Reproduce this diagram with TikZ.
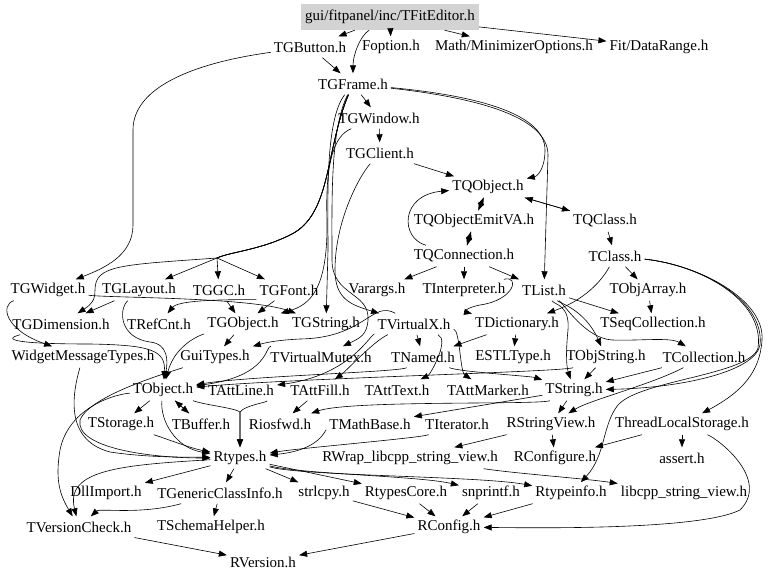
\documentclass[tikz,border=0pt]{standalone}
\usepackage{fontspec}
\setmainfont{Liberation Serif}
\usetikzlibrary{arrows.meta}
\definecolor{rootfill}{RGB}{211,211,211}
\begin{document}
\begin{tikzpicture}[x=1pt,y=-1pt,
  nd/.style={inner xsep=3pt, inner ysep=0pt, minimum height=21pt, font=\fontsize{15}{18}\selectfont},
  rootnd/.style={nd, fill=rootfill, minimum height=26pt, inner xsep=4pt},
  e/.style={-{Triangle[length=8pt,width=6pt]}, line width=0.6pt}]
\useasboundingbox (0,0) rectangle (768,580);
% nodes
\node[rootnd] (fit) at (390,17) {gui/fitpanel/inc/TFitEditor.h};
\node[nd] (btn) at (310,47) {TGButton.h};
\node[nd] (fop) at (391,47) {Foption.h};
\node[nd] (mop) at (514,47) {Math/MinimizerOptions.h};
\node[nd] (fdr) at (659,47) {Fit/DataRange.h};
\node[nd] (frame) at (353,84) {TGFrame.h};
\node[nd] (win) at (379,118) {TGWindow.h};
\node[nd] (cli) at (380,153) {TGClient.h};
\node[nd] (tqo) at (488,187) {TQObject.h};
\node[nd] (emit) at (474,221) {TQObjectEmitVA.h};
\node[nd] (tqc) at (605,221) {TQClass.h};
\node[nd] (conn) at (464,256) {TQConnection.h};
\node[nd] (tcl) at (615,256) {TClass.h};
\node[nd] (wid) at (48,290) {TGWidget.h};
\node[nd] (lay) at (139,290) {TGLayout.h};
\node[nd] (gc) at (219,290) {TGGC.h};
\node[nd] (font) at (289,290) {TGFont.h};
\node[nd] (var) at (377,290) {Varargs.h};
\node[nd] (interp) at (464,290) {TInterpreter.h};
\node[nd] (tlist) at (544,290) {TList.h};
\node[nd] (oarr) at (648,290) {TObjArray.h};
\node[nd] (dim) at (61,324) {TGDimension.h};
\node[nd] (refc) at (159,324) {TRefCnt.h};
\node[nd] (gobj) at (243,324) {TGObject.h};
\node[nd] (gstr) at (326,324) {TGString.h};
\node[nd] (vx) at (414,324) {TVirtualX.h};
\node[nd] (dict) at (517,324) {TDictionary.h};
\node[nd] (seq) at (653,324) {TSeqCollection.h};
\node[nd] (wmt) at (83,357) {WidgetMessageTypes.h};
\node[nd] (gui) at (215,357) {GuiTypes.h};
\node[nd] (vmut) at (321,357) {TVirtualMutex.h};
\node[nd] (named) at (423,357) {TNamed.h};
\node[nd] (estl) at (513,357) {ESTLType.h};
\node[nd] (ostr) at (606,357) {TObjString.h};
\node[nd] (coll) at (704,357) {TCollection.h};
\node[nd] (obj) at (163,390) {TObject.h};
\node[nd] (aline) at (241,390) {TAttLine.h};
\node[nd] (afill) at (320,390) {TAttFill.h};
\node[nd] (atext) at (397,390) {TAttText.h};
\node[nd] (amark) at (488,390) {TAttMarker.h};
\node[nd] (str) at (574,390) {TString.h};
\node[nd] (stor) at (121,424) {TStorage.h};
\node[nd] (buf) at (201,424) {TBuffer.h};
\node[nd] (rios) at (280,424) {Riosfwd.h};
\node[nd] (mathb) at (370,424) {TMathBase.h};
\node[nd] (iter) at (457,424) {TIterator.h};
\node[nd] (rsv) at (551,424) {RStringView.h};
\node[nd] (tls) at (682,424) {ThreadLocalStorage.h};
\node[nd] (rty) at (240,458) {Rtypes.h};
\node[nd] (rwrap) at (410,458) {RWrap\_libcpp\_string\_view.h};
\node[nd] (rcfg) at (555,458) {RConfigure.h};
\node[nd] (assert) at (682,458) {assert.h};
\node[nd] (dll) at (106,493) {DllImport.h};
\node[nd] (gci) at (220,493) {TGenericClassInfo.h};
\node[nd] (strl) at (324,493) {strlcpy.h};
\node[nd] (rcore) at (406,493) {RtypesCore.h};
\node[nd] (snp) at (491,493) {snprintf.h};
\node[nd] (rti) at (571,493) {Rtypeinfo.h};
\node[nd] (lcsv) at (684,493) {libcpp\_string\_view.h};
\node[nd] (tvc) at (79,527) {TVersionCheck.h};
\node[nd] (tsh) at (211,527) {TSchemaHelper.h};
\node[nd] (rconf) at (449,527) {RConfig.h};
\node[nd] (rver) at (263,562) {RVersion.h};
% top edges
\draw[e] (fit) -- (btn);
\draw[e] (fit) .. controls (360,36) and (353,55) .. (frame);
\draw[e] (fit) -- (fop);
\draw[e] (fit) -- (mop);
\draw[e] (fit) -- (fdr);
\draw[e] (btn) -- (frame);
\draw[e] (btn) .. controls (200,62) and (133,85) .. (133,130) -- (133,225) .. controls (133,255) and (105,268) .. (wid);
\draw[e] (frame) -- (win);
\draw[e] (win) -- (cli);
\draw[e] (cli) -- (tqo);
\draw[e] (frame) .. controls (470,95) and (545,112) .. (545,150) .. controls (545,168) and (538,176) .. (tqo);
\draw[e] (frame) .. controls (470,97) and (548,115) .. (548,155) -- (tlist);
% corridor
\draw[e] (frame) .. controls (325,120) and (328,200) .. (328,250) -- (gstr);
\draw[e] (win) .. controls (335,135) and (325,160) .. (327,220) .. controls (328,290) and (310,305) .. (gobj);
\draw[e] (cli) .. controls (360,175) and (335,220) .. (335,270) .. controls (335,300) and (352,305) .. (vx);
\draw[e] (frame) .. controls (330,130) and (332,200) .. (332,260) .. controls (332,296) and (370,292) .. (368,320) .. controls (367,335) and (360,338) .. (vmut);
\draw[e] (frame) .. controls (325,150) and (332,215) .. (290,235) .. controls (260,250) and (230,252) .. (217,258) -- (lay);
\draw[e] (frame) .. controls (325,150) and (332,215) .. (290,235) .. controls (260,250) and (230,252) .. (217,258) -- (gc);
\draw[e] (frame) .. controls (325,150) and (332,215) .. (290,235) .. controls (260,250) and (230,252) .. (217,258) -- (font);
\draw[e] (frame) .. controls (325,150) and (332,215) .. (290,235) .. controls (260,250) and (230,252) .. (217,258) .. controls (120,265) and (95,265) .. (95,290) .. controls (95,300) and (92,304) .. (dim);
% TQ group
\draw[e] (tqo) -- (emit);
\draw[e] (emit) -- (tqo);
\draw[e] (emit) -- (conn);
\draw[e] (conn) -- (emit);
\draw[e] (conn) .. controls (400,238) and (400,195) .. (tqo);
\draw[e] (tqo) -- (tqc);
\draw[e] (tqc) -- (tqo);
\draw[e] (tqc) -- (tcl);
\draw[e] (conn) -- (var);
\draw[e] (conn) -- (interp);
\draw[e] (conn) -- (tlist);
% TClass
\draw[e] (tcl) -- (oarr);
\draw[e] (tcl) .. controls (605,275) and (590,298) .. (dict);
\draw[e] (tcl) .. controls (700,265) and (765,300) .. (762,340) .. controls (760,372) and (742,392) .. (tls);
\draw[e] (tcl) .. controls (700,265) and (765,300) .. (760,345) .. controls (755,372) and (680,388) .. (str);
\draw[e] (tcl) .. controls (700,265) and (765,300) .. (758,348) .. controls (750,375) and (640,380) .. (618,405) .. controls (602,425) and (606,455) .. (rti);
% lists
\draw[e] (interp) .. controls (520,275) and (515,300) .. (480,305) .. controls (465,308) and (465,312) .. (dict);
\draw[e] (tlist) -- (seq);
\draw[e] (oarr) -- (seq);
\draw[e] (tlist) .. controls (555,305) and (570,305) .. (568,330) .. controls (566,350) and (566,365) .. (str);
\draw[e] (tlist) .. controls (560,303) and (585,310) .. (ostr);
\draw[e] (tlist) .. controls (565,305) and (585,338) .. (612,340) .. controls (640,341) and (670,337) .. (coll);
\draw[e] (coll) -- (str);
\draw[e] (ostr) -- (str);
\draw[e] (coll) .. controls (650,385) and (590,400) .. (rsv);
% row 9/10 left
\draw[e] (wid) .. controls (0,305) and (5,330) .. (wmt);
\draw[e] (lay) -- (dim);
\draw[e] (font) .. controls (255,300) and (180,298) .. (refc);
\draw[e] (font) -- (gobj);
\draw[e] (gc) -- (gobj);
\draw[e] (wid) .. controls (110,298) and (250,297) .. (gstr);
\draw[e] (gobj) -- (gui);
\draw[e] (lay) .. controls (118,310) and (120,338) .. (150,342) .. controls (168,344) and (168,360) .. (obj);
\draw[e] (dim) .. controls (0,340) and (20,344) .. (90,344) .. controls (150,345) and (166,350) .. (obj);
\draw[e] (gobj) .. controls (200,335) and (175,345) .. (obj);
% TVirtualX etc
\draw[e] (vx) .. controls (372,300) and (365,338) .. (300,339) .. controls (280,340) and (268,342) .. (gui);
\draw[e] (vx) -- (named);
\draw[e] (vx) .. controls (370,335) and (350,375) .. (aline);
\draw[e] (vx) .. controls (375,340) and (345,372) .. (afill);
\draw[e] (vx) .. controls (450,340) and (430,375) .. (atext);
\draw[e] (vx) .. controls (460,330) and (460,372) .. (amark);
\draw[e] (vmut) .. controls (265,345) and (270,376) .. (obj);
\draw[e] (named) .. controls (400,372) and (250,376) .. (obj);
\draw[e] (named) .. controls (460,372) and (530,376) .. (str);
\draw[e] (dict) -- (named);
\draw[e] (dict) -- (estl);
\draw[e] (ostr) .. controls (560,372) and (300,378) .. (obj);
% row 12 -> 13
\draw[e] (obj) -- (stor);
\draw[e] (obj) -- (buf);
\draw[e] (buf) -- (obj);
\draw[e] (obj) .. controls (205,405) and (235,408) .. (240,412) -- (rty);
\draw[e] (aline) .. controls (270,402) and (245,405) .. (240,412) -- (rty);
\draw[e] (obj) .. controls (160,420) and (175,448) .. (rty);
\draw[e] (afill) -- (rios);
\draw[e] (str) .. controls (540,405) and (350,400) .. (rios);
\draw[e] (str) -- (mathb);
\draw[e] (str) -- (rsv);
\draw[e] (stor) .. controls (170,440) and (190,448) .. (rty);
\draw[e] (mathb) .. controls (325,430) and (320,450) .. (rty);
\draw[e] (iter) .. controls (420,438) and (300,448) .. (rty);
\draw[e] (wmt) .. controls (72,395) and (65,440) .. (110,452) .. controls (150,458) and (190,457) .. (rty);
\draw[e] (gui) .. controls (170,372) and (90,395) .. (80,420) .. controls (75,448) and (150,458) .. (rty);
\draw[e] (obj) .. controls (110,395) and (68,410) .. (60,450) .. controls (55,480) and (60,495) .. (tvc);
% lower
\draw[e] (rsv) -- (rwrap);
\draw[e] (rsv) -- (rcfg);
\draw[e] (tls) -- (rcfg);
\draw[e] (tls) -- (assert);
\draw[e] (tls) .. controls (720,440) and (770,480) .. (740,510) .. controls (700,530) and (540,528) .. (rconf);
\draw[e] (rwrap) .. controls (520,474) and (580,478) .. (lcsv);
\draw[e] (rty) -- (dll);
\draw[e] (rty) -- (gci);
\draw[e] (rty) -- (strl);
\draw[e] (rty) -- (rcore);
\draw[e] (rty) .. controls (300,474) and (420,476) .. (snp);
\draw[e] (rty) .. controls (300,476) and (480,476) .. (rti);
\draw[e] (rty) .. controls (120,465) and (65,470) .. (tvc);
\draw[e] (gci) .. controls (140,515) and (100,508) .. (tvc);
\draw[e] (gci) -- (tsh);
\draw[e] (strl) -- (rconf);
\draw[e] (rcore) -- (rconf);
\draw[e] (snp) -- (rconf);
\draw[e] (rti) -- (rconf);
\draw[e] (tvc) -- (rver);
\draw[e] (rconf) -- (rver);
\end{tikzpicture}
\end{document}
